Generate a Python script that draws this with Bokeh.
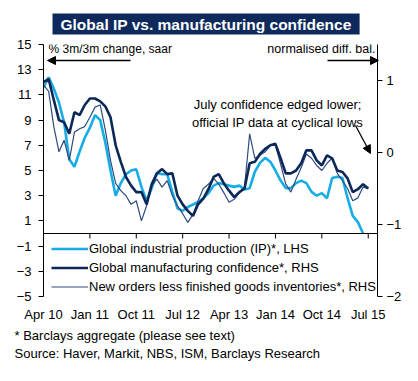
import numpy as np
from bokeh.plotting import figure
from bokeh.models import (Range1d, LinearAxis, FixedTicker, Label, Arrow, NormalHead,
                          Legend, LegendItem, ColumnDataSource, Span, Title)
from bokeh.embed import file_html
from bokeh.resources import INLINE

# ---- data (monthly, starting Apr 2010) ----
ip = [11.6, 12.4, 11.5, 10.4, 8.8, 5.9, 5.3, 6.5, 7.6, 8.4,
      9.4, 9.0, 7.2, 5.0, 3.0, 4.0, 4.7, 5.0, 5.1, 3.7,
      2.6, 3.6, 4.8, 4.7, 4.7, 3.3, 2.0, 1.8, 2.1, 2.3,
      2.5, 2.8, 3.2, 3.8, 4.0, 3.9, 3.8, 3.7, 3.8, 3.5,
      3.6, 4.9, 5.6, 6.0, 5.7, 5.0, 4.2, 3.6, 3.6, 4.0,
      4.2, 4.0, 3.3, 3.0, 3.2, 2.8, 4.4, 4.5, 4.4, 2.8,
      1.4, 0.9, 0.0]
confidence = [0.98, 1.02, 0.73, 0.45, 0.42, 0.26, 0.56, 0.52, 0.66, 0.75,
              0.75, 0.71, 0.64, 0.49, 0.10, -0.13, -0.34, -0.46, -0.55, -0.55,
              -0.72, -0.44, -0.29, -0.23, -0.30, -0.29, -0.60, -0.72, -0.81, -0.88,
              -0.72, -0.64, -0.51, -0.34, -0.30, -0.43, -0.53, -0.62, -0.55, -0.50,
              -0.15, -0.13, -0.02, 0.05, 0.10, 0.12, -0.08, -0.29, -0.29, -0.25,
              -0.15, 0.03, 0.03, -0.11, -0.18, -0.04, -0.08, -0.25, -0.27, -0.36,
              -0.55, -0.51, -0.44, -0.50]
new_orders = [0.94, 0.85, 0.36, 0.01, 0.17, -0.11, 0.28, 0.33, 0.36, 0.49,
              0.63, 0.66, 0.31, -0.11, -0.43, -0.53, -0.60, -0.72, -0.67, -0.95,
              -0.74, -0.46, -0.37, -0.48, -0.39, -0.60, -0.74, -0.85, -0.97, -0.86,
              -0.67, -0.50, -0.44, -0.36, -0.44, -0.56, -0.69, -0.65, -0.56, -0.48,
              0.26, -0.08, -0.04, 0.01, 0.10, 0.10, -0.16, -0.44, -0.55, -0.37,
              -0.21, -0.02, -0.08, -0.18, -0.25, -0.15, -0.08, -0.29, -0.39, -0.50,
              -0.67, -0.63, -0.48, -0.50]
tick_months = [0, 9, 18, 27, 36, 45, 54, 63]
tick_labels = ["Apr 10", "Jan 11", "Oct 11", "Jul 12", "Apr 13", "Jan 14", "Oct 14", "Jul 15"]
lhs_ticks = [-5, -3, -1, 1, 3, 5, 7, 9, 11, 13, 15]
rhs_ticks = [-2, -1, 0, 1]

FONT = "Liberation Sans"
CYAN = "#16ACE6"
NAVY = "#0B2858"
MID = "#2E4C80"

p = figure(width=404, height=365, x_range=Range1d(0, 64.8), y_range=Range1d(-5, 15),
           output_backend="svg", toolbar_location=None,
           min_border_left=43, min_border_right=20, min_border_top=44, min_border_bottom=69,
           x_axis_location=None, y_axis_location=None)
p.extra_y_ranges = {"rhs": Range1d(-2, 1.5)}
p.outline_line_color = None
p.xgrid.visible = False
p.ygrid.visible = False
p.background_fill_color = "white"
p.border_fill_color = "white"

title = Title(text="Global IP vs. manufacturing confidence", align="left", offset=9,
              vertical_align="top",
              text_color="white", text_font=FONT, text_font_style="bold",
              text_font_size="15.5px", background_fill_color="#0E2A5C",
              padding=(8, 2), standoff=16)
p.add_layout(title, "above")

def style_axis(ax):
    ax.axis_line_color = "black"
    ax.major_tick_line_color = "black"
    ax.minor_tick_line_color = None
    ax.major_tick_in = 0
    ax.major_tick_out = 5
    ax.major_label_text_font = FONT
    ax.major_label_text_font_size = "13px"
    ax.major_label_text_color = "black"

left = LinearAxis(ticker=FixedTicker(ticks=lhs_ticks))
style_axis(left)
left.major_label_standoff = 7
p.add_layout(left, "left")

right = LinearAxis(y_range_name="rhs", ticker=FixedTicker(ticks=rhs_ticks))
style_axis(right)
right.major_label_standoff = 4
p.add_layout(right, "right")

xlab = LinearAxis(ticker=FixedTicker(ticks=tick_months),
                  major_label_overrides={m: t for m, t in zip(tick_months, tick_labels)})
style_axis(xlab)
xlab.axis_line_color = None
xlab.major_tick_line_color = None
xlab.major_tick_out = 0
xlab.major_label_standoff = 10
p.add_layout(xlab, "below")

for txt, so in [("* Barclays aggregate (please see text)", 2),
                ("Source: Haver, Markit, NBS, ISM, Barclays Research", 0)]:
    t = Title(text=txt, align="left", offset=-29, text_font=FONT, text_font_size="13px",
              text_font_style="normal", text_color="black", standoff=so)
    p.add_layout(t, "below")

# zero line of the left axis, with the date ticks hanging from it
p.add_layout(Span(location=0, dimension="width", line_color="black", line_width=1))
p.segment(x0=tick_months, y0=[0] * len(tick_months), x1=tick_months,
          y1=[-0.4] * len(tick_months), line_color="black", line_width=1)

src_ip = ColumnDataSource(dict(x=np.arange(len(ip)), y=ip))
src_cf = ColumnDataSource(dict(x=np.arange(len(confidence)), y=confidence))
src_no = ColumnDataSource(dict(x=np.arange(len(new_orders)), y=new_orders))

r_ip = p.line("x", "y", source=src_ip, color=CYAN, line_width=2.6)
r_no = p.line("x", "y", source=src_no, color=MID, line_width=1.2, y_range_name="rhs")
r_cf = p.line("x", "y", source=src_cf, color=NAVY, line_width=2.6, y_range_name="rhs")

legend = Legend(items=[
    LegendItem(label="Global industrial production (IP)*, LHS", renderers=[r_ip]),
    LegendItem(label="Global manufacturing confidence*, RHS", renderers=[r_cf]),
    LegendItem(label="New orders less finished goods inventories*, RHS", renderers=[r_no]),
], location=(8, 0))
legend.background_fill_alpha = 0
legend.border_line_color = None
legend.padding = 0
legend.margin = 0
legend.spacing = 0
legend.glyph_width = 37
legend.glyph_height = 19
legend.label_height = 19
legend.label_standoff = 1
legend.label_text_font = FONT
legend.label_text_font_size = "13px"
legend.label_text_color = "black"
p.add_layout(legend, "center")

def lab(x, y, text, size="13px", align="left"):
    l = Label(x=x, y=y, x_units="screen", y_units="screen", text=text,
              text_font=FONT, text_font_size=size, text_align=align,
              text_baseline="middle", text_color="black")
    p.add_layout(l)
    return l

lab(5, 248, "% 3m/3m change, saar", size="12px")
lab(332, 248, "normalised diff. bal.", size="12.5px", align="right")
lab(234, 192, "July confidence edged lower;", size="13px", align="center")
lab(234, 174, "official IP data at cyclical lows", size="13px", align="center")

def arrow(x0, y0, x1, y1):
    a = Arrow(x_start=x0, y_start=y0, x_end=x1, y_end=y1,
              start_units="screen", end_units="screen",
              line_color="black", line_width=1.3,
              end=NormalHead(size=8, fill_color="black", line_color="black"))
    p.add_layout(a)

arrow(87, 236, 4, 236)
arrow(284, 236, 335, 236)
arrow(312, 171, 327, 143)

open("out.html", "w").write(file_html(p, INLINE))
